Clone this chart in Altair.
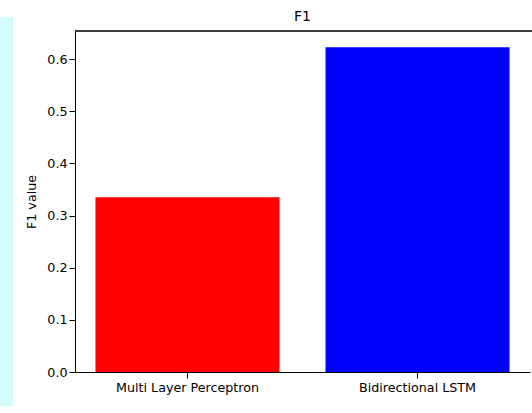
import altair as alt
import pandas as pd

models = ["Multi Layer Perceptron", "Bidirectional LSTM"]
f1_values = [0.335, 0.623]
bar_colors = ["#ff0000", "#0000ff"]

df = pd.DataFrame({"model": models, "f1": f1_values})

bars = alt.Chart(df).mark_bar().encode(
    x=alt.X("model:N", sort=models,
            scale=alt.Scale(paddingInner=0.2, paddingOuter=0.089),
            axis=alt.Axis(title=None, labelAngle=0)),
    y=alt.Y("f1:Q", scale=alt.Scale(domain=[0, 0.654], nice=False, zero=True),
            axis=alt.Axis(title="F1 value", values=[0, 0.1, 0.2, 0.3, 0.4, 0.5, 0.6],
                          format=".1f")),
    color=alt.Color("model:N", scale=alt.Scale(domain=models, range=bar_colors), legend=None),
)

strip = alt.Chart(df).mark_rect(color="#d2fcfe").encode(
    x=alt.value(-75), x2=alt.value(-62), y=alt.value(-14), y2=alt.value(375)
)

top_spine = alt.Chart(df).mark_rule(color="#000", strokeWidth=1).encode(
    x=alt.value(0), x2=alt.value(457), y=alt.value(0)
)

chart = alt.layer(strip, bars, top_spine).properties(
    width=455, height=341,
    title=alt.TitleParams("F1", fontSize=14, fontWeight="normal", font="DejaVu Sans",
                          color="#000", offset=-7, frame="group"),
    autosize=alt.AutoSizeParams(type="none"),
    padding={"left": 75, "top": 31, "right": 2, "bottom": 41},
).configure_view(stroke="transparent", strokeWidth=0).configure_axis(
    grid=False, domainColor="#000", tickColor="#000", tickSize=6,
    labelFont="DejaVu Sans", labelFontSize=12.7, labelColor="#000", labelPadding=2,
    titleFont="DejaVu Sans", titleFontSize=12.7, titleFontWeight="normal", titleColor="#000",
).configure_axisX(labelPadding=3).configure_axisY(titlePadding=8)

chart.save("out.html", embed_options={"renderer": "svg", "actions": False})
